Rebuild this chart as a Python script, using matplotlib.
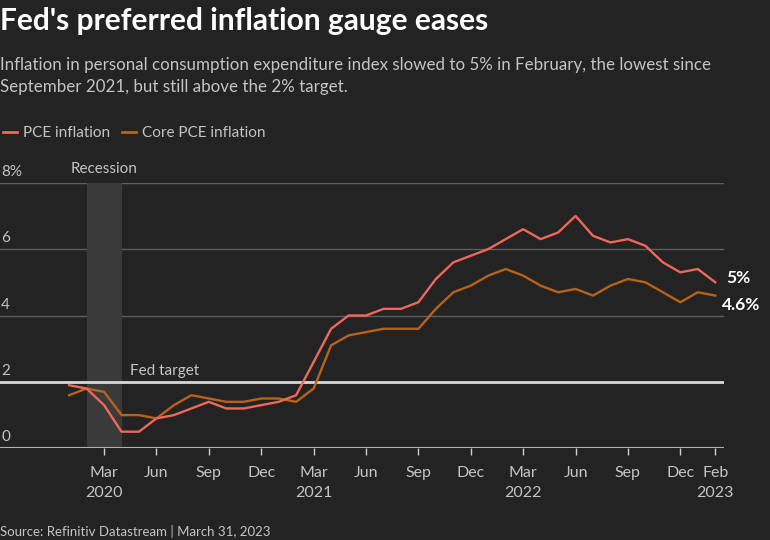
import matplotlib
matplotlib.use('Agg')
import matplotlib.pyplot as plt
import matplotlib.transforms as mtransforms
from matplotlib.lines import Line2D

# monthly data, Jan 2020 .. Feb 2023
pce = [1.9, 1.8, 1.3, 0.5, 0.5, 0.9, 1.0, 1.2, 1.4, 1.2, 1.2, 1.3,
       1.4, 1.6, 2.6, 3.6, 4.0, 4.0, 4.2, 4.2, 4.4, 5.1, 5.6, 5.8,
       6.0, 6.3, 6.6, 6.3, 6.5, 7.0, 6.4, 6.2, 6.3, 6.1, 5.6, 5.3,
       5.4, 5.0]
core = [1.6, 1.8, 1.7, 1.0, 1.0, 0.9, 1.3, 1.6, 1.5, 1.4, 1.4, 1.5,
        1.5, 1.4, 1.8, 3.1, 3.4, 3.5, 3.6, 3.6, 3.6, 4.2, 4.7, 4.9,
        5.2, 5.4, 5.2, 4.9, 4.7, 4.8, 4.6, 4.9, 5.1, 5.0, 4.7, 4.4,
        4.7, 4.6]
tick_pos = [2, 5, 8, 11, 14, 17, 20, 23, 26, 29, 32, 35, 37]
tick_labels = ['Mar\n2020', 'Jun', 'Sep', 'Dec', 'Mar\n2021', 'Jun', 'Sep', 'Dec',
               'Mar\n2022', 'Jun', 'Sep', 'Dec', 'Feb\n2023']
y_ticks = [0, 2, 4, 6, 8]
y_labels = ['0', '2', '4', '6', '8%']
recession = (1, 3)
fed_target = 2

BG = '#232323'
RED = '#f0675a'
ORANGE = '#b8621b'
LIGHT = '#c4c4c4'

plt.rcParams['font.family'] = ['Lato', 'DejaVu Sans']

fig = plt.figure(figsize=(7.7, 5.4), dpi=100, facecolor=BG)
W, H = 770.0, 540.0
ax = fig.add_axes([0.0, 91.7 / H, 724 / W, 265.6 / H], facecolor=BG)

x = list(range(len(pce)))
ax.axvspan(recession[0], recession[1], color='#3a3a3a', lw=0, zorder=1)
for yv in [4, 6, 8]:
    ax.axhline(yv, color='#5e5e5e', lw=1, zorder=0)
ax.axhline(0, color='#b0b0b0', lw=1.5, zorder=2)
ax.axhline(fed_target, color='#d8d8d8', lw=2, zorder=2)

ax.plot(x, core, color=ORANGE, lw=1.7, zorder=3, label='Core PCE inflation')
ax.plot(x, pce, color=RED, lw=1.7, zorder=4, label='PCE inflation')

ax.set_xlim(-3.96, 37.5)
ax.set_ylim(0, 8)
for s in ax.spines.values():
    s.set_visible(False)
ax.set_yticks([])
ax.set_xticks(tick_pos)
ax.set_xticklabels(tick_labels, color=LIGHT, fontsize=11.5, linespacing=1.55)
ax.tick_params(axis='x', length=5, width=1, color='#d0d0d0', pad=8)

trans = mtransforms.blended_transform_factory(fig.transFigure, ax.transData)
for yv, lab in zip(y_ticks, y_labels):
    ax.text(1 / W, yv + 0.12, lab, transform=trans, color=LIGHT, fontsize=11,
            ha='left', va='bottom')

ax.text(sum(recession) / 2, 8.2, 'Recession', color=LIGHT, fontsize=11,
        ha='center', va='bottom', clip_on=False)
ax.text(3.5, fed_target + 0.12, 'Fed target', color=LIGHT, fontsize=11,
        ha='left', va='bottom')

ax.annotate('5%', xy=(x[-1], pce[-1]), xytext=(8, 3), textcoords='offset points',
            color='white', fontsize=12.5, fontweight='bold', va='center',
            annotation_clip=False)
ax.annotate('4.6%', xy=(x[-1], core[-1]), xytext=(5, -7), textcoords='offset points',
            color='white', fontsize=12.5, fontweight='bold', va='center',
            annotation_clip=False)

fig.text(0.0, 1 - 21 / H, "Fed's preferred inflation gauge eases", color='white',
         fontsize=21.5, fontweight='bold', ha='left', va='center')
fig.text(0.0, 1 - 76 / H,
         'Inflation in personal consumption expenditure index slowed to 5% in February, the lowest since\n'
         'September 2021, but still above the 2% target.',
         color=LIGHT, fontsize=12.2, ha='left', va='center', linespacing=1.45)

handles = [Line2D([], [], color=RED, lw=2), Line2D([], [], color=ORANGE, lw=2)]
fig.legend(handles, ['PCE inflation', 'Core PCE inflation'], loc='center left',
           bbox_to_anchor=(-0.014, 1 - 133 / H), ncol=2, frameon=False,
           handlelength=0.9, handletextpad=0.4, columnspacing=0.8,
           labelcolor=LIGHT, fontsize=11)

fig.text(0.0, 1 - 531 / H, 'Source: Refinitiv Datastream | March 31, 2023',
         color=LIGHT, fontsize=9.5, ha='left', va='center')

fig.savefig('out.png', dpi=100, facecolor=BG)
